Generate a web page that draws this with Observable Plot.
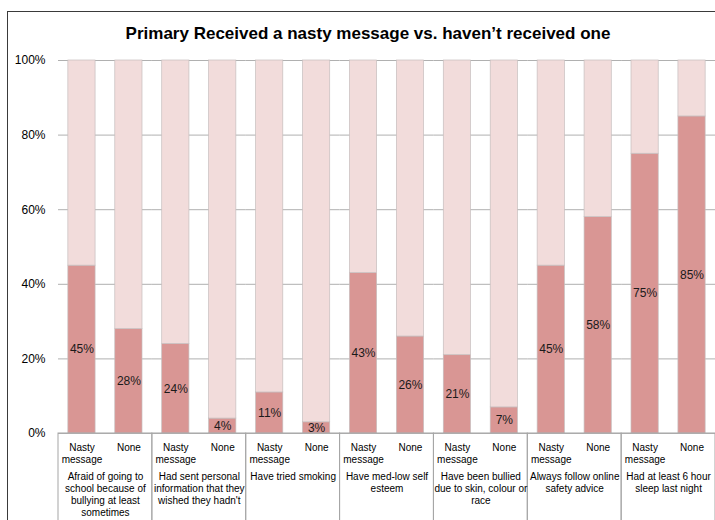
<!DOCTYPE html>
<html><head><meta charset="utf-8">
<script src="https://cdn.jsdelivr.net/npm/d3@7"></script>
<script src="https://cdn.jsdelivr.net/npm/@observablehq/plot@0.6"></script>
<style>
body{margin:0;background:#fff;}
#wrap{position:relative;width:715px;height:520px;overflow:hidden;font-family:"Liberation Sans",Arial,sans-serif;background:#fff;}
#border{position:absolute;left:7px;top:11px;width:760px;height:600px;border:1.5px solid #3a3a3a;box-sizing:border-box}
#title{position:absolute;left:0;width:736px;top:23.5px;text-align:center;font-weight:bold;font-size:17px;line-height:20px;color:#000;white-space:nowrap}
#chart{position:absolute;left:0;top:0}
</style></head><body>
<div id="wrap"><div id="border"></div><div id="chart"></div><div id="title">Primary Received a nasty message vs. haven’t received one</div></div>
<script>
const groups = [
  "Afraid of going to school because of bullying at least sometimes",
  "Had sent personal information that they wished they hadn't",
  "Have tried smoking",
  "Have med-low self esteem",
  "Have been bullied due to skin, colour or race",
  "Always follow online safety advice",
  "Had at least 6 hour sleep last night"
];
const groupLabels = [
  "Afraid of going to\nschool because of\nbullying at least\nsometimes",
  "Had sent personal\ninformation that they\nwished they hadn't",
  "Have tried smoking",
  "Have med-low self\nesteem",
  "Have been bullied\ndue to skin, colour or\nrace",
  "Always follow online\nsafety advice",
  "Had at least 6 hour\nsleep last night"
];
const types = ["Nasty message", "None"];
const typeLabels = ["Nasty\nmessage", "None"];
const nastyValues = [45, 24, 11, 43, 21, 45, 75];
const noneValues = [28, 4, 3, 26, 7, 58, 85];
const yTicks = [0, 0.2, 0.4, 0.6, 0.8, 1];

const rows = groups.flatMap((g, i) => types.flatMap((t, j) => {
  const v = j === 0 ? nastyValues[i] : noneValues[i];
  return [
    {group: g, type: t, segment: "value", share: v},
    {group: g, type: t, segment: "rest", share: 100 - v}
  ];
}));

const chart = Plot.plot({
  width: 715,
  height: 520,
  marginLeft: 58,
  marginRight: 0,
  marginTop: 60,
  marginBottom: 87,
  fx: {domain: groups, padding: 0, round: false, label: null},
  x: {domain: types, paddingInner: 0.42, paddingOuter: 0.21, round: false, label: null},
  y: {domain: [0, 1], label: null},
  color: {domain: ["value", "rest"], range: ["#d99694", "#f2dcdb"]},
  style: {fontFamily: "'Liberation Sans', Arial, sans-serif", fontSize: "10px", color: "#000", background: "transparent", overflow: "visible"},
  marks: [
    Plot.ruleY(yTicks, {stroke: "#b0b0b0", strokeWidth: 1}),
    Plot.barY(rows, Plot.stackY({fx: "group", x: "type", y: d => d.share / 100, fill: "segment", stroke: "#c6bebe", strokeWidth: 0.7})),
    Plot.text(rows, Plot.stackY({fx: "group", x: "type", y: d => d.share / 100, text: d => d.segment === "value" ? d.share + "%" : null, fontSize: 12, fill: "#1a1a1a"})),
    Plot.rect([0], {y1: 0, y2: 0, insetBottom: -160, stroke: "#a6a6a6", fill: "none"}),
    Plot.axisY(yTicks, {tickFormat: d3.format(".0%"), tickSize: 0, tickPadding: 13, fontSize: 12, fill: "#000", label: null}),
    Plot.axisX({tickSize: 0, tickPadding: 9, tickFormat: d => typeLabels[types.indexOf(d)], lineHeight: 1.2, fontSize: 10, fill: "#000", label: null}),
    Plot.axisFx({anchor: "bottom", tickSize: 0, tickPadding: 38, tickFormat: d => groupLabels[groups.indexOf(d)], lineHeight: 1.2, fontSize: 10, fill: "#000", label: null})
  ]
});
document.getElementById("chart").appendChild(chart);
</script>
</body></html>
